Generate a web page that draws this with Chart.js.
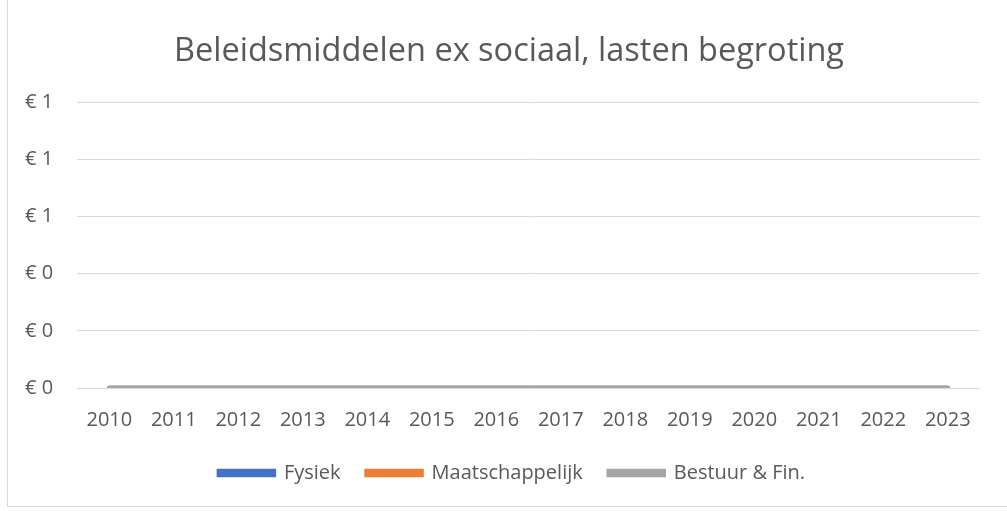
<!DOCTYPE html>
<html>
<head>
<meta charset="utf-8">
<script src="https://cdn.jsdelivr.net/npm/chart.js@4"></script>
<style>
  html, body { margin: 0; padding: 0; background: #fff; }
  #wrap { position: relative; width: 1007px; height: 511px; overflow: hidden; }
  #frame { position: absolute; left: 7px; top: -2px; width: 1010px; height: 509px; border: 1px solid #d9d9d9; box-sizing: border-box; }
  canvas { position: absolute; left: 0; top: 0; }
</style>
</head>
<body>
<div id="wrap">
  <div id="frame"></div>
  <canvas id="chart" width="1007" height="511"></canvas>
</div>
<script>
const years = ['2010', '2011', '2012', '2013', '2014', '2015', '2016', '2017', '2018', '2019', '2020', '2021', '2022', '2023'];
const fysiek = [0, 0, 0, 0, 0, 0, 0, 0, 0, 0, 0, 0, 0, 0];
const maatschappelijk = [0, 0, 0, 0, 0, 0, 0, 0, 0, 0, 0, 0, 0, 0];
const bestuurFin = [0, 0, 0, 0, 0, 0, 0, 0, 0, 0, 0, 0, 0, 0];

const textColor = '#595959';
const font = 'Open Sans';

// Excel centres title and legend on the whole frame, not on the y-axis-padded box
const centerBlocks = {
  id: 'centerBlocks',
  afterLayout(chart) {
    chart.titleBlock.left += 37;
    chart.legend.left += 43;
    chart.legend.top -= 7;
    chart.legend.bottom -= 7;
  }
};

new Chart(document.getElementById('chart'), {
  type: 'line',
  data: {
    labels: years,
    datasets: [
      // lower order is painted on top, grey ends up covering the others like in Excel
      { label: 'Fysiek', data: fysiek, borderColor: '#4472C4', backgroundColor: '#4472C4', order: 2 },
      { label: 'Maatschappelijk', data: maatschappelijk, borderColor: '#ED7D31', backgroundColor: '#ED7D31', order: 1 },
      { label: 'Bestuur & Fin.', data: bestuurFin, borderColor: '#A5A5A5', backgroundColor: '#A5A5A5', order: 0 }
    ]
  },
  options: {
    responsive: false,
    animation: false,
    elements: {
      line: { borderWidth: 4.5, borderCapStyle: 'round', tension: 0 },
      point: { radius: 0 }
    },
    layout: { padding: { left: 1, right: 27, top: 0, bottom: 11 } },
    scales: {
      x: {
        offset: true,
        grid: { display: false },
        border: { display: false },
        ticks: { color: textColor, font: { family: font, size: 20 }, padding: 12, maxRotation: 0 }
      },
      y: {
        min: 0,
        max: 1,
        grid: { color: '#d9d9d9', lineWidth: 1, drawTicks: false },
        border: { display: false },
        ticks: {
          stepSize: 0.2,
          color: textColor,
          font: { family: font, size: 20 },
          padding: 24,
          callback: v => '€ ' + Math.round(v)
        }
      }
    },
    plugins: {
      title: {
        display: true,
        text: 'Beleidsmiddelen ex sociaal, lasten begroting',
        color: textColor,
        font: { family: font, size: 32.5, weight: 'normal' },
        padding: { top: 32, bottom: 31 }
      },
      legend: {
        position: 'bottom',
        labels: {
          color: textColor,
          font: { family: font, size: 20 },
          boxWidth: 55,
          boxHeight: 4,
          padding: 26,
          sort: (a, b) => a.datasetIndex - b.datasetIndex
        }
      },
      tooltip: { enabled: false }
    }
  },
  plugins: [centerBlocks]
});
</script>
</body>
</html>
